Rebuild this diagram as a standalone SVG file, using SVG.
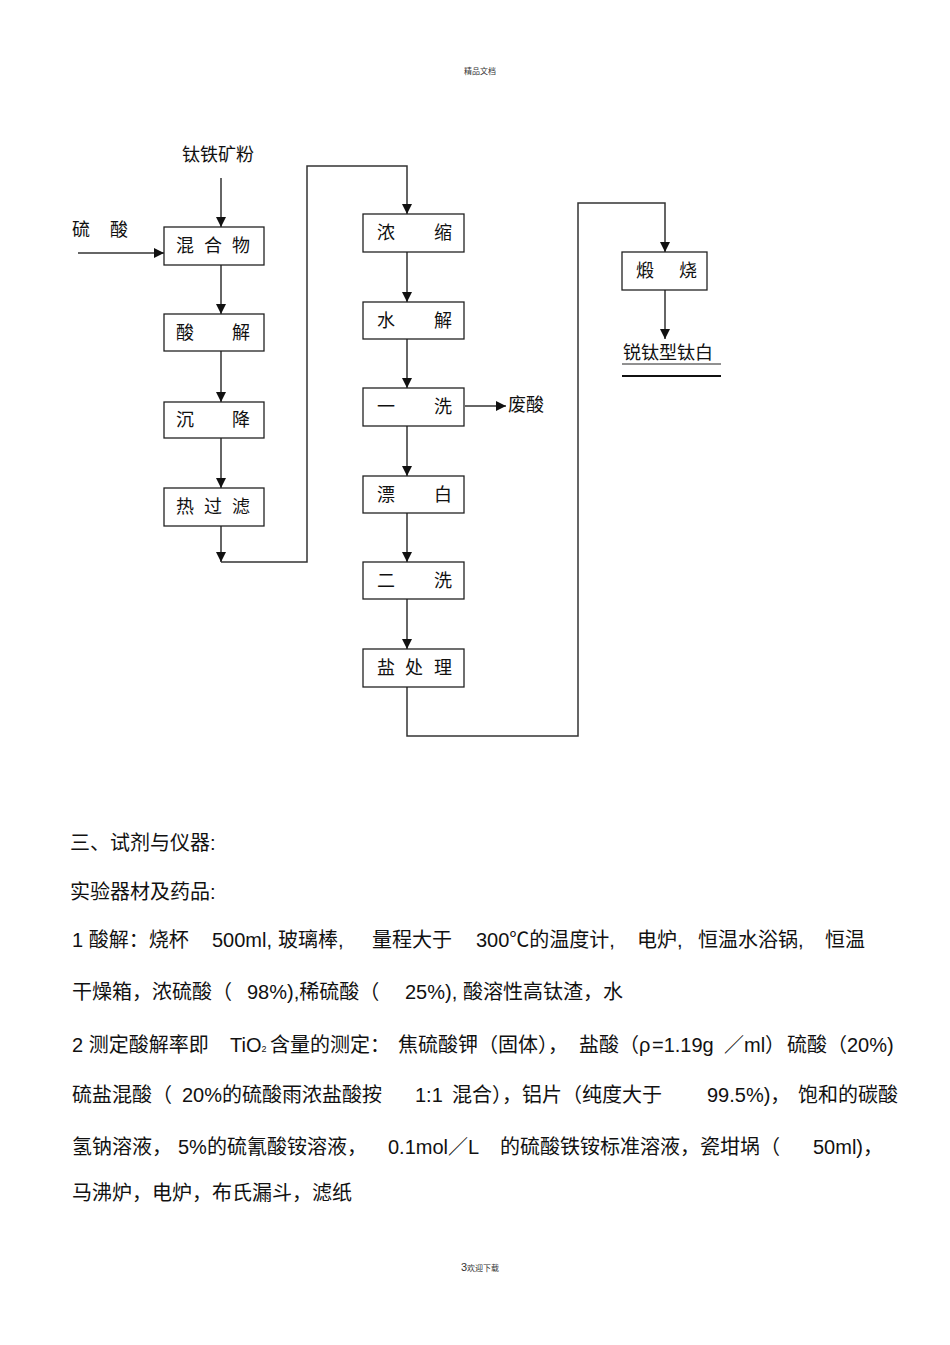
<svg xmlns="http://www.w3.org/2000/svg" width="950" height="1345" viewBox="0 0 950 1345">
<defs>
<style>
.box{fill:#fff;stroke:#222;stroke-width:1.3}
.lbl{font-family:"Liberation Serif","Noto Sans CJK SC",serif;font-size:18px;fill:#111}
.ln{fill:none;stroke:#333;stroke-width:1.5}
.body{font-family:"Liberation Sans","Noto Sans CJK SC",sans-serif;font-size:20px;fill:#111}
.small{font-family:"Liberation Sans","Noto Sans CJK SC",sans-serif;font-size:8px;fill:#333}
</style>
<marker id="ah" viewBox="0 0 10 10" refX="10" refY="5" markerWidth="10" markerHeight="10" markerUnits="userSpaceOnUse" orient="auto">
<path d="M0,0 L10,5 L0,10 z" fill="#111"/>
</marker>
</defs>
<rect width="950" height="1345" fill="#fff"/>
<text class="small" x="480" y="74" text-anchor="middle">精品文档</text>

<g id="connectors">
<line class="ln" x1="221" y1="178" x2="221" y2="227" marker-end="url(#ah)"/>
<line class="ln" x1="78" y1="253" x2="164" y2="253" marker-end="url(#ah)"/>
<line class="ln" x1="221" y1="265" x2="221" y2="314" marker-end="url(#ah)"/>
<line class="ln" x1="221" y1="351" x2="221" y2="402" marker-end="url(#ah)"/>
<line class="ln" x1="221" y1="438" x2="221" y2="488" marker-end="url(#ah)"/>
<line class="ln" x1="221" y1="526" x2="221" y2="562" marker-end="url(#ah)"/>
<polyline class="ln" points="221,562 307,562 307,166 407,166 407,214" marker-end="url(#ah)"/>
<line class="ln" x1="407" y1="252" x2="407" y2="302" marker-end="url(#ah)"/>
<line class="ln" x1="407" y1="339" x2="407" y2="388" marker-end="url(#ah)"/>
<line class="ln" x1="465" y1="406" x2="506" y2="406" marker-end="url(#ah)"/>
<line class="ln" x1="407" y1="426" x2="407" y2="476" marker-end="url(#ah)"/>
<line class="ln" x1="407" y1="513" x2="407" y2="562" marker-end="url(#ah)"/>
<line class="ln" x1="407" y1="599" x2="407" y2="649" marker-end="url(#ah)"/>
<polyline class="ln" points="407,687 407,736 578,736 578,203 665,203 665,252" marker-end="url(#ah)"/>
<line class="ln" x1="665" y1="290" x2="665" y2="339" marker-end="url(#ah)"/>
<line x1="622" y1="364" x2="721" y2="364" stroke="#222" stroke-width="1"/>
<line x1="622" y1="376" x2="721" y2="376" stroke="#111" stroke-width="2"/>
</g>

<g id="n-ilmenite"><text class="lbl" x="182" y="161">钛铁矿粉</text></g>
<g id="n-sulfuric"><text class="lbl" x="72 110" y="236">硫酸</text></g>
<g id="n-mix"><rect class="box" x="164" y="227" width="100" height="38"/><text class="lbl" x="176 204 232" y="252">混合物</text></g>
<g id="n-acid"><rect class="box" x="164" y="314" width="100" height="37"/><text class="lbl" x="176 232" y="339">酸解</text></g>
<g id="n-settle"><rect class="box" x="164" y="402" width="100" height="36"/><text class="lbl" x="176 232" y="426">沉降</text></g>
<g id="n-hotfilter"><rect class="box" x="164" y="488" width="100" height="38"/><text class="lbl" x="176 204 232" y="513">热过滤</text></g>
<g id="n-conc"><rect class="box" x="363" y="214" width="101" height="38"/><text class="lbl" x="377 434" y="239">浓缩</text></g>
<g id="n-hydro"><rect class="box" x="363" y="302" width="101" height="37"/><text class="lbl" x="377 434" y="327">水解</text></g>
<g id="n-wash1"><rect class="box" x="363" y="388" width="101" height="38"/><text class="lbl" x="377 434" y="413">一洗</text></g>
<g id="n-waste"><text class="lbl" x="508" y="411">废酸</text></g>
<g id="n-bleach"><rect class="box" x="363" y="476" width="101" height="37"/><text class="lbl" x="377 434" y="501">漂白</text></g>
<g id="n-wash2"><rect class="box" x="363" y="562" width="101" height="37"/><text class="lbl" x="377 434" y="587">二洗</text></g>
<g id="n-salt"><rect class="box" x="363" y="649" width="101" height="38"/><text class="lbl" x="377 405 434" y="674">盐处理</text></g>
<g id="n-calc"><rect class="box" x="622" y="252" width="85" height="38"/><text class="lbl" x="636 679" y="277">煅烧</text></g>
<g id="n-product"><text class="lbl" x="623" y="359">锐钛型钛白</text></g>

<g id="bodytext" class="body">
<text x="70" y="850">三、试剂与仪器:</text>
<text x="70" y="899">实验器材及药品:</text>
<text y="947"><tspan x="72">1 酸解：烧杯</tspan><tspan x="212">500ml,</tspan><tspan x="278">玻璃棒,</tspan><tspan x="372">量程大于</tspan><tspan x="476">300℃的温度计,</tspan><tspan x="637">电炉,</tspan><tspan x="698">恒温水浴锅,</tspan><tspan x="825">恒温</tspan></text>
<text y="999"><tspan x="72">干燥箱，浓硫酸（</tspan><tspan x="247">98%),稀硫酸（</tspan><tspan x="405">25%),</tspan><tspan x="463">酸溶性高钛渣，水</tspan></text>
<text y="1052"><tspan x="72">2 测定酸解率即</tspan><tspan x="230">TiO</tspan><tspan font-size="9">2</tspan><tspan x="270">含量的测定：</tspan><tspan x="398">焦硫酸钾（固体），</tspan><tspan x="579">盐酸（ρ</tspan><tspan x="652">=1.19g</tspan><tspan x="724">／ml）</tspan><tspan x="787">硫酸（20%)</tspan></text>
<text y="1102"><tspan x="72">硫盐混酸（</tspan><tspan x="182">20%的硫酸雨浓盐酸按</tspan><tspan x="415">1:1</tspan><tspan x="452">混合），铝片（纯度大于</tspan><tspan x="707">99.5%)，</tspan><tspan x="798">饱和的碳酸</tspan></text>
<text y="1154"><tspan x="72">氢钠溶液，</tspan><tspan x="178">5%的硫氰酸铵溶液，</tspan><tspan x="388">0.1mol／L</tspan><tspan x="500">的硫酸铁铵标准溶液，瓷坩埚（</tspan><tspan x="813">50ml)，</tspan></text>
<text x="72" y="1200">马沸炉，电炉，布氏漏斗，滤纸</text>
</g>
<text class="small" x="480" y="1271" text-anchor="middle"><tspan font-size="11">3</tspan>欢迎下载</text>
</svg>
